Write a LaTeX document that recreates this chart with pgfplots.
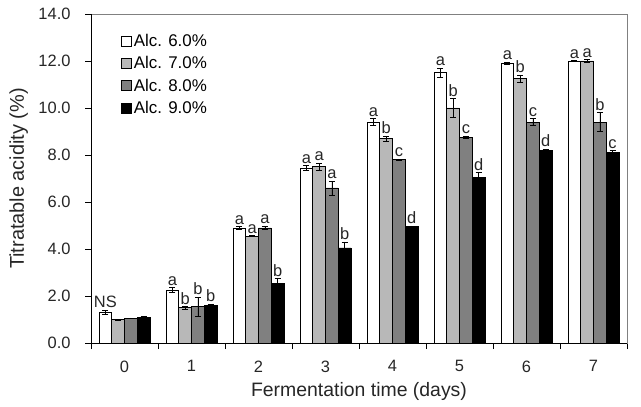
\documentclass[border=0pt]{standalone}
\usepackage{fontspec}
\setmainfont{Liberation Sans}
\usepackage{pgfplots}
\usepackage{pgfplotstable}
\pgfplotsset{compat=1.18}
\definecolor{lgray}{gray}{0.72}
\definecolor{dgray}{gray}{0.50}

\pgfplotstableread{
x y e
0 1.30 0.10
1 2.25 0.10
2 4.90 0.05
3 7.45 0.10
4 9.40 0.15
5 11.50 0.20
6 11.90 0.05
7 12.00 0.02
}\alcA
\pgfplotstableread{
x y e
0 1.00 0.02
1 1.50 0.05
2 4.55 0.03
3 7.50 0.15
4 8.70 0.10
5 10.00 0.40
6 11.25 0.15
7 12.00 0.05
}\alcB
\pgfplotstableread{
x y e
0 1.05 0.02
1 1.55 0.40
2 4.90 0.08
3 6.60 0.30
4 7.80 0.03
5 8.75 0.05
6 9.40 0.15
7 9.40 0.40
}\alcC
\pgfplotstableread{
x y e
0 1.10 0.02
1 1.60 0.05
2 2.55 0.20
3 4.05 0.25
4 4.95 0.03
5 7.05 0.20
6 8.20 0.05
7 8.10 0.08
}\alcD

\begin{document}
\begin{tikzpicture}
\begin{axis}[
  name=ax,
  scale only axis, width=536bp, height=329bp,
  xmin=-0.5, xmax=7.5, ymin=0, ymax=14,
  ybar, bar width=0.19,
  clip=false,
  axis line style={draw=gray},
  tick align=outside,
  major tick length=6bp,
  tick style={black, line width=0.6pt},
  xtick={-0.5,0.5,...,7.5},
  xticklabels={0,1,2,3,4,5,6,7},
  x tick label as interval,
  xtick pos=bottom, ytick pos=left,
  ytick={0,2,...,14},
  tick label style={font=\fontsize{16.5}{19}\selectfont, text=black!85},
  yticklabel style={xshift=-11bp, /pgf/number format/.cd, fixed, fixed zerofill, precision=1, assume math mode=true},
  xticklabel style={yshift=-8bp},
  xlabel={Fermentation time (days)},
  ylabel={Titratable acidity (\%)},
  every axis x label/.style={at={(axis description cs:0.5,-0.148)}, anchor=center, font=\fontsize{19.5}{22}\selectfont, text=black!85},
  every axis y label/.style={at={(axis description cs:-0.135,0.5)}, anchor=center, rotate=90, font=\fontsize{20}{22}\selectfont, text=black!85},
  legend style={draw=none, fill=none, at={(axis description cs:0.056,0.945)}, anchor=north west,
    font=\fontsize{17}{20}\selectfont, row sep=4.5bp, inner sep=0pt},
  legend cell align=left,
  legend image code/.code={\draw[#1, draw=black, line width=0.6pt] (0bp,-5bp) rectangle (10bp,5bp);},
  error bars/y dir=both, error bars/y explicit,
  error bars/error bar style={black, line width=0.7pt},
  error bars/error mark options={black, rotate=90, mark size=3bp, line width=0.7pt},
  nodes near coords style={font=\fontsize{16.5}{18}\selectfont, inner sep=2bp, anchor=south, text=black!85},
]
\addplot[fill=white, draw=black, line width=0.6pt, bar shift=-0.285] table[x=x, y=y, y error=e] {\alcA};
\addlegendentry{Alc. 6.0\%}
\addplot[fill=lgray, draw=black, line width=0.6pt, bar shift=-0.095] table[x=x, y=y, y error=e] {\alcB};
\addlegendentry{Alc. 7.0\%}
\addplot[fill=dgray, draw=black, line width=0.6pt, bar shift=0.095] table[x=x, y=y, y error=e] {\alcC};
\addlegendentry{Alc. 8.0\%}
\addplot[fill=black, draw=black, line width=0.6pt, bar shift=0.285] table[x=x, y=y, y error=e] {\alcD};
\addlegendentry{Alc. 9.0\%}

% significance letters (placed at bar top + error)
\addplot[draw=none, fill=none, bar shift=-0.285, forget plot, nodes near coords, point meta=explicit symbolic]
  coordinates {(0,1.40)[NS] (1,2.35)[a] (2,4.95)[a] (3,7.55)[a] (4,9.55)[a] (5,11.70)[a] (6,11.95)[a] (7,12.02)[a]};
\addplot[draw=none, fill=none, bar shift=-0.095, forget plot, nodes near coords, point meta=explicit symbolic]
  coordinates {(1,1.55)[b] (2,4.58)[a] (3,7.65)[a] (4,8.80)[b] (5,10.40)[b] (6,11.40)[b] (7,12.05)[a]};
\addplot[draw=none, fill=none, bar shift=0.095, forget plot, nodes near coords, point meta=explicit symbolic]
  coordinates {(1,1.95)[b] (2,4.98)[a] (3,6.90)[a] (4,7.83)[c] (5,8.80)[c] (6,9.55)[c] (7,9.80)[b]};
\addplot[draw=none, fill=none, bar shift=0.285, forget plot, nodes near coords, point meta=explicit symbolic]
  coordinates {(1,1.65)[b] (2,2.75)[b] (3,4.30)[b] (4,4.98)[d] (5,7.25)[d] (6,8.25)[d] (7,8.18)[c]};

\draw[black, line width=0.8pt] (rel axis cs:0,1) -- (rel axis cs:0,0) -- (rel axis cs:1,0);
\end{axis}
\pgfresetboundingbox
\path (ax.south west) ++(-91bp,-63bp) coordinate (bbA);
\path (ax.north east) ++(14bp,14bp) coordinate (bbB);
\path[use as bounding box] (bbA) rectangle (bbB);
\end{tikzpicture}
\end{document}
